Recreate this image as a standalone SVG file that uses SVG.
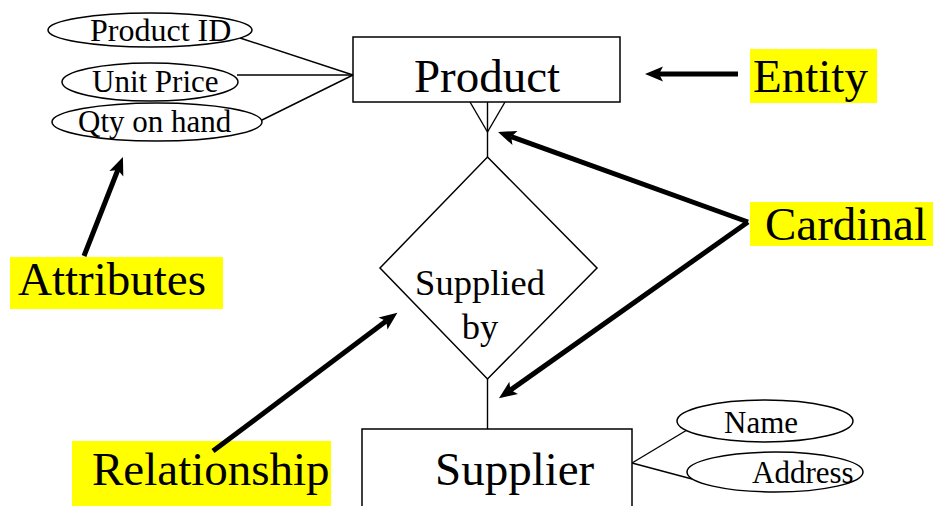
<svg xmlns="http://www.w3.org/2000/svg" width="934" height="506" viewBox="0 0 934 506">
  <style>
    .shape { fill: #ffffff; stroke: #000000; stroke-width: 1.5; }
    .link { fill: none; stroke: #000000; stroke-width: 1.4; }
    .pointer { fill: none; stroke: #000000; stroke-width: 5; marker-end: url(#head); }
    .label { fill: #ffff00; stroke: none; }
    text { font-family: "Liberation Serif", "Times New Roman", serif; fill: #000000; }
    .big { font-size: 47px; }
    .attr { font-size: 31px; }
    .rel { font-size: 36.5px; }
  </style>
  <defs>
    <marker id="head" markerUnits="userSpaceOnUse" markerWidth="24" markerHeight="20" refX="4" refY="0" viewBox="0 -10 24 20" orient="auto" overflow="visible">
      <path d="M0,-7.5 L18,0 L0,7.5 L4,0 Z" fill="#000000"/>
    </marker>
  </defs>

  <!-- connectors -->
  <g id="connectors">
    <line class="link" x1="240" y1="38" x2="353" y2="75"/>
    <line class="link" x1="237" y1="75" x2="353" y2="75"/>
    <line class="link" x1="262" y1="120" x2="353" y2="75"/>
    <!-- crow's foot (many) under Product -->
    <line class="link" x1="487.5" y1="102" x2="487.5" y2="157"/>
    <line class="link" x1="470" y1="102" x2="487.5" y2="132"/>
    <line class="link" x1="505" y1="102" x2="487.5" y2="132"/>
    <line class="link" x1="487.5" y1="379" x2="487.5" y2="429"/>
    <line class="link" x1="632" y1="463" x2="687" y2="430"/>
    <line class="link" x1="632" y1="463" x2="692" y2="479"/>
  </g>

  <!-- Product entity -->
  <g id="product">
    <rect class="shape" x="353" y="37" width="267" height="65"/>
    <text class="big" x="487" y="92" text-anchor="middle">Product</text>
  </g>

  <!-- Product attributes -->
  <g id="attr-product-id">
    <ellipse class="shape" cx="150" cy="30" rx="102" ry="17"/>
    <text class="attr" x="90" y="41" style="font-size:32px">Product ID</text>
  </g>
  <g id="attr-unit-price">
    <ellipse class="shape" cx="150" cy="82" rx="88" ry="19"/>
    <text class="attr" x="92" y="92">Unit Price</text>
  </g>
  <g id="attr-qty">
    <ellipse class="shape" cx="157" cy="122" rx="105" ry="19"/>
    <text class="attr" x="78" y="132">Qty on hand</text>
  </g>

  <!-- Relationship -->
  <g id="supplied-by">
    <polygon class="shape" points="487.5,157 597,268 487.5,379 380,268"/>
    <text class="rel" x="480" y="295" text-anchor="middle">Supplied</text>
    <text class="rel" x="480" y="339" text-anchor="middle">by</text>
  </g>

  <!-- Supplier entity -->
  <g id="supplier">
    <rect class="shape" x="362" y="429" width="270" height="100"/>
    <text class="big" x="435" y="485">Supplier</text>
  </g>
  <g id="attr-name">
    <ellipse class="shape" cx="765" cy="421" rx="88" ry="21"/>
    <text class="attr" x="724" y="433">Name</text>
  </g>
  <g id="attr-address">
    <ellipse class="shape" cx="775" cy="472" rx="88" ry="20"/>
    <text class="attr" x="752" y="483">Address</text>
  </g>

  <!-- Callout labels -->
  <g id="label-entity">
    <rect class="label" x="750" y="49" width="127" height="54"/>
    <text class="big" x="753" y="92">Entity</text>
  </g>
  <g id="label-cardinal">
    <rect class="label" x="750" y="202" width="183" height="44"/>
    <text class="big" x="765" y="240">Cardinal</text>
  </g>
  <g id="label-attributes">
    <rect class="label" x="10" y="257" width="213" height="52"/>
    <text class="big" x="18" y="295">Attributes</text>
  </g>
  <g id="label-relationship">
    <rect class="label" x="72" y="441" width="259" height="65"/>
    <text class="big" x="92" y="485">Relationship</text>
  </g>

  <!-- Callout arrows -->
  <g id="pointers">
    <line class="pointer" x1="738" y1="74" x2="659" y2="74"/>
    <line class="pointer" x1="748" y1="222" x2="511.2" y2="136.7"/>
    <line class="pointer" x1="748" y1="222" x2="510.4" y2="390.1"/>
    <line class="pointer" x1="84" y1="256" x2="117.8" y2="170"/>
    <line class="pointer" x1="213" y1="451" x2="386.2" y2="321.1"/>
  </g>
</svg>
